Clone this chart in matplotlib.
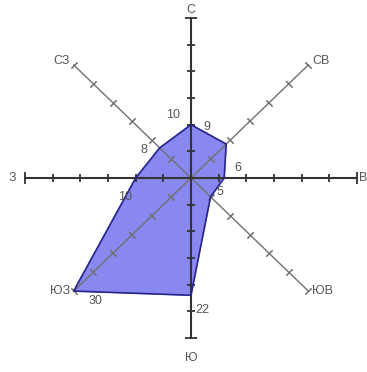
import numpy as np
import matplotlib
matplotlib.use('Agg')
import matplotlib.pyplot as plt

plt.rcParams['font.family'] = ['Liberation Sans', 'DejaVu Sans']

# направления и повторяемость ветра
napr = ['С', 'СВ', 'В', 'ЮВ', 'Ю', 'ЮЗ', 'З', 'СЗ']
ugol = [90, 45, 0, -45, -90, -135, 180, 135]
znach = [10, 9, 6, 5, 22, 30, 10, 8]
tiki = [5, 10, 15, 20, 25]
rmax = 30

# %%
fig = plt.figure(figsize=(3.67, 3.72), dpi=100)
ax = fig.add_axes([0, 0, 1, 1])
ax.set_xlim(-191 / 5.53, (367 - 191) / 5.53)
ax.set_ylim(-(372 - 178) / 5.33, 178 / 5.33)
ax.axis('off')

rad = np.deg2rad(ugol)
px = np.round(np.array(znach) * np.cos(rad), 6)
py = np.round(np.array(znach) * np.sin(rad), 6)

ax.fill(px, py, color='#8888f0', zorder=1)
ax.fill(px, py, fill=False, edgecolor='#25258a', lw=1.2, zorder=4)

# диагонали
t = np.array(tiki)
for a, mk in [(45, (2, 2, 45)), (135, (2, 2, -45))]:
    c, s = np.cos(np.deg2rad(a)), np.sin(np.deg2rad(a))
    ax.plot([-rmax * c, rmax * c], [-rmax * s, rmax * s], color='#707070', lw=1, zorder=2)
    ax.plot(np.r_[t, -t] * c, np.r_[t, -t] * s, ls='none', marker=mk,
            ms=6, mew=0.8, color='#707070', zorder=2)
    ax.plot([-rmax * c, rmax * c], [-rmax * s, rmax * s], ls='none', marker=mk,
            ms=6, mew=0.8, color='#707070', zorder=2)

# главные оси
ax.plot([-rmax, rmax], [0, 0], color='#333333', lw=1.5, zorder=3)
ax.plot([0, 0], [-rmax, rmax], color='#333333', lw=1.5, zorder=3)
ax.plot(np.r_[t, -t], np.zeros(10), ls='none', marker='|', ms=6, mew=1.3,
        color='#333333', zorder=3)
ax.plot(np.zeros(10), np.r_[t, -t], ls='none', marker='_', ms=6, mew=1.3,
        color='#333333', zorder=3)
ax.plot([-rmax, rmax], [0, 0], ls='none', marker='|', ms=8, mew=1.3, color='#333333', zorder=3)
ax.plot([0, 0], [-rmax, rmax], ls='none', marker='_', ms=8, mew=1.3, color='#333333', zorder=3)

# подписи значений
sdvig = [(-18, 10), (-19, 17), (14, 10), (9, 5), (11, -15), (22, -10), (-11, -19), (-16, -2)]
for x, y, v, d in zip(px, py, znach, sdvig):
    ax.annotate(str(v), (x, y), xytext=d, textcoords='offset pixels',
                ha='center', va='center', fontsize=9, color='#555555', zorder=5)

# подписи направлений
kon = {'С': ((0, 8), 'center'), 'Ю': ((0, -20), 'center'), 'З': ((-13, 0), 'center'),
       'В': ((2, 0), 'left'), 'СВ': ((4, 4), 'left'), 'СЗ': ((-4, 4), 'right'),
       'ЮВ': ((4, 0), 'left'), 'ЮЗ': ((-4, 0), 'right')}
for n, a in zip(napr, ugol):
    d, ha = kon[n]
    r = np.deg2rad(a)
    ax.annotate(n, (rmax * np.cos(r), rmax * np.sin(r)), xytext=d,
                textcoords='offset pixels', ha=ha, va='center', fontsize=9,
                color='#555555', zorder=5)

fig.savefig('out.png', dpi=100)
